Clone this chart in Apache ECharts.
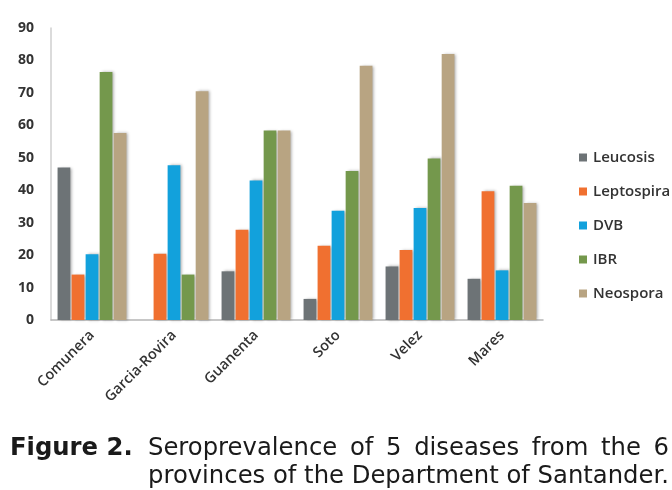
<!DOCTYPE html>
<html>
<head>
<meta charset="utf-8">
<script src="https://cdn.jsdelivr.net/npm/echarts@6/dist/echarts.min.js"></script>
<style>html,body{margin:0;padding:0;background:#fff;}#c{width:672px;height:490px;}</style>
</head>
<body>
<div id="c"></div>
<script>
var categories = ['Comunera', 'Garcia-Rovira', 'Guanenta', 'Soto', 'Velez', 'Mares'];
var seriesNames = ['Leucosis', 'Leptospira', 'DVB', 'IBR', 'Neospora'];
var leucosis   = [47, 0, 15, 6.5, 16.5, 12.7];
var leptospira = [14, 20.4, 27.8, 22.9, 21.6, 39.7];
var dvb        = [20.3, 47.7, 43, 33.7, 34.5, 15.3];
var ibr        = [76.4, 14, 58.4, 45.9, 49.8, 41.4];
var neospora   = [57.6, 70.5, 58.4, 78.4, 82, 36.1];
var yTicks = [0, 10, 20, 30, 40, 50, 60, 70, 80, 90];
var colors = ['#6d7376', '#f07030', '#12a1dc', '#74984c', '#b8a482'];

var captionLabel = 'Figure 2.';
var captionLine1 = 'Seroprevalence of 5 diseases from the 6';
var captionLine2 = 'provinces of the Department of Santander.';

var allData = [leucosis, leptospira, dvb, ibr, neospora];
var chart = echarts.init(document.getElementById('c'), null, {renderer: 'canvas'});

var series = seriesNames.map(function (n, i) {
  return {
    name: n, type: 'bar', data: allData[i],
    barGap: '10%', barCategoryGap: '16%',
    itemStyle: {color: colors[i], shadowColor: 'rgba(0,0,0,0.35)', shadowBlur: 3, shadowOffsetX: 2, shadowOffsetY: 0}
  };
});

// caption layout: justified first line between textLeft and textRight
var capFamily = '"DejaVu Sans"';
var textLeft = 148, textRight = 669;
var ctx = document.createElement('canvas').getContext('2d');
ctx.font = '24px ' + capFamily;
var w2 = ctx.measureText(captionLine2).width;
var capSize = Math.min(24.5, 24 * (textRight - textLeft) / w2);
var capFont = capSize.toFixed(2) + 'px ' + capFamily;
ctx.font = capFont;
var words = captionLine1.split(' ');
var wordW = words.map(function (w) { return ctx.measureText(w).width; });
var sumW = wordW.reduce(function (a, b) { return a + b; }, 0);
var gap = (textRight - textLeft - sumW) / (words.length - 1);

var line1Top = 437, line2Top = 465;
var graphics = [
  {type: 'text', x: 10, y: line1Top, style: {text: captionLabel, font: 'bold ' + capFont, fill: '#1a1a1a', verticalAlign: 'top'}}
];
var xPos = textLeft;
words.forEach(function (w, i) {
  graphics.push({type: 'text', x: xPos, y: line1Top, style: {text: w, font: capFont, fill: '#1a1a1a', verticalAlign: 'top'}});
  xPos += wordW[i] + gap;
});
graphics.push({type: 'text', x: textLeft, y: line2Top, style: {text: captionLine2, font: capFont, fill: '#1a1a1a', verticalAlign: 'top'}});

chart.setOption({
  animation: false,
  color: colors,
  grid: {left: 51, right: 129, top: 28, bottom: 170},
  legend: {
    orient: 'vertical', left: 574, top: 145, itemWidth: 8, itemHeight: 8, itemGap: 19,
    icon: 'rect',
    data: seriesNames,
    textStyle: {fontFamily: 'Open Sans', fontWeight: 600, fontSize: 15, color: '#333', padding: [0, 0, 0, 1]}
  },
  xAxis: {
    type: 'category', data: categories,
    axisLine: {show: true, lineStyle: {color: '#b5b5b5', width: 1.5}},
    axisTick: {show: false},
    axisLabel: {rotate: 45, margin: 13, fontFamily: 'Open Sans', fontWeight: 600, fontSize: 14.5, color: '#333', interval: 0}
  },
  yAxis: {
    type: 'value', min: 0, max: 90, interval: 10,
    axisLine: {show: true, lineStyle: {color: '#cfcfcf', width: 1.5}},
    axisTick: {show: false},
    splitLine: {show: false},
    axisLabel: {margin: 17, fontFamily: 'Open Sans', fontWeight: 700, fontSize: 14, color: '#333',
      formatter: function (v) { return yTicks.indexOf(v) >= 0 ? String(v) : ''; }}
  },
  series: series,
  graphic: graphics
});
</script>
</body>
</html>
